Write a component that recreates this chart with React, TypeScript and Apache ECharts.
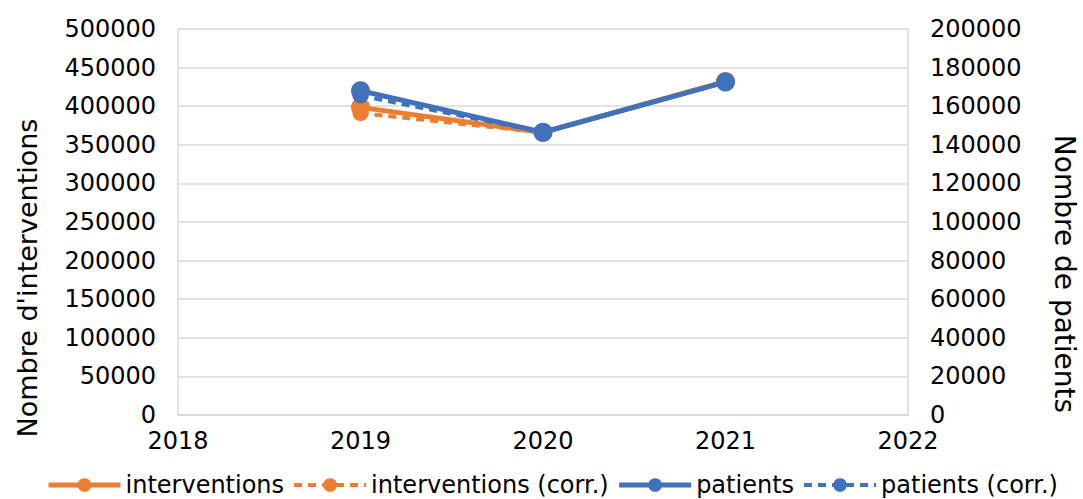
import React, { useEffect, useRef } from "react";
import * as echarts from "echarts";

// Years and yearly totals
const years = [2019, 2020, 2021];
const interventions = [398500, 366000, 432000];
const interventionsCorr = [391000, 366000, 432000];
const patients = [168000, 146500, 172500];
const patientsCorr = [165500, 146500, 172500];

const ORANGE = "#ED7D31";
const BLUE = "#3F72BA";
const FONT = "DejaVu Sans";
const GRID = "#d9d9d9";

const pairs = (vals: number[]) => years.map((y, i) => [y, vals[i]]);

export default function App() {
  const ref = useRef<HTMLDivElement>(null);

  useEffect(() => {
    if (!ref.current) return;
    const chart = echarts.init(ref.current, undefined, { renderer: "svg" });
    const lineSeries = (
      name: string,
      data: number[],
      color: string,
      dashed: boolean,
      yAxisIndex: number
    ) => ({
      name,
      type: "line",
      yAxisIndex,
      data: pairs(data),
      symbol: "circle",
      symbolSize: dashed ? 16 : 19,
      itemStyle: { color },
      lineStyle: {
        color,
        width: dashed ? 4 : 5,
        type: dashed ? [8, 6] : "solid",
      },
    });
    const legendItem = (name: string, dashed: boolean) => ({
      name,
      lineStyle: { width: dashed ? 4 : 5, type: dashed ? [8, 6] : "solid" },
    });
    const tickLabel = {
      fontFamily: FONT,
      fontSize: 24,
      color: "#000",
      margin: 22,
      formatter: (v: number) => String(v),
    };
    chart.setOption({
      animation: false,
      textStyle: { fontFamily: FONT },
      grid: { left: 178, right: 175, top: 29, bottom: 84 },
      legend: {
        bottom: -3,
        left: 41,
        itemWidth: 72,
        itemHeight: 17,
        itemGap: 8,
        textStyle: { fontFamily: FONT, fontSize: 24, color: "#000" },
        data: [
          legendItem("interventions", false),
          legendItem("interventions (corr.)", true),
          legendItem("patients", false),
          legendItem("patients (corr.)", true),
        ],
      },
      graphic: [
        {
          type: "text",
          x: 27,
          y: 278,
          rotation: Math.PI / 2,
          style: {
            text: "Nombre d'interventions",
            font: `27px "${FONT}"`,
            fill: "#000",
            align: "center",
            verticalAlign: "middle",
          },
        },
        {
          type: "text",
          x: 1064,
          y: 274,
          rotation: -Math.PI / 2,
          style: {
            text: "Nombre de patients",
            font: `28px "${FONT}"`,
            fill: "#000",
            align: "center",
            verticalAlign: "middle",
          },
        },
      ],
      xAxis: {
        type: "value",
        min: 2018,
        max: 2022,
        interval: 1,
        axisLine: { show: true, lineStyle: { color: GRID, width: 1.5 } },
        axisTick: { show: false },
        splitLine: { show: false },
        axisLabel: { ...tickLabel, margin: 14 },
      },
      yAxis: [
        {
          type: "value",
          min: 0,
          max: 500000,
          interval: 50000,
          axisLine: { show: true, lineStyle: { color: GRID, width: 1.5 } },
          axisTick: { show: false },
          splitLine: { show: true, lineStyle: { color: GRID, width: 1.5 } },
          axisLabel: tickLabel,
        },
        {
          type: "value",
          min: 0,
          max: 200000,
          interval: 20000,
          axisLine: { show: true, lineStyle: { color: GRID, width: 1.5 } },
          axisTick: { show: false },
          splitLine: { show: false },
          axisLabel: tickLabel,
        },
      ],
      series: [
        lineSeries("interventions", interventions, ORANGE, false, 0),
        lineSeries("interventions (corr.)", interventionsCorr, ORANGE, true, 0),
        lineSeries("patients (corr.)", patientsCorr, BLUE, true, 1),
        lineSeries("patients", patients, BLUE, false, 1),
      ],
    });
    return () => chart.dispose();
  }, []);

  return (
    <div
      ref={ref}
      style={{ position: "absolute", left: 0, top: 0, width: 1083, height: 499 }}
    />
  );
}
